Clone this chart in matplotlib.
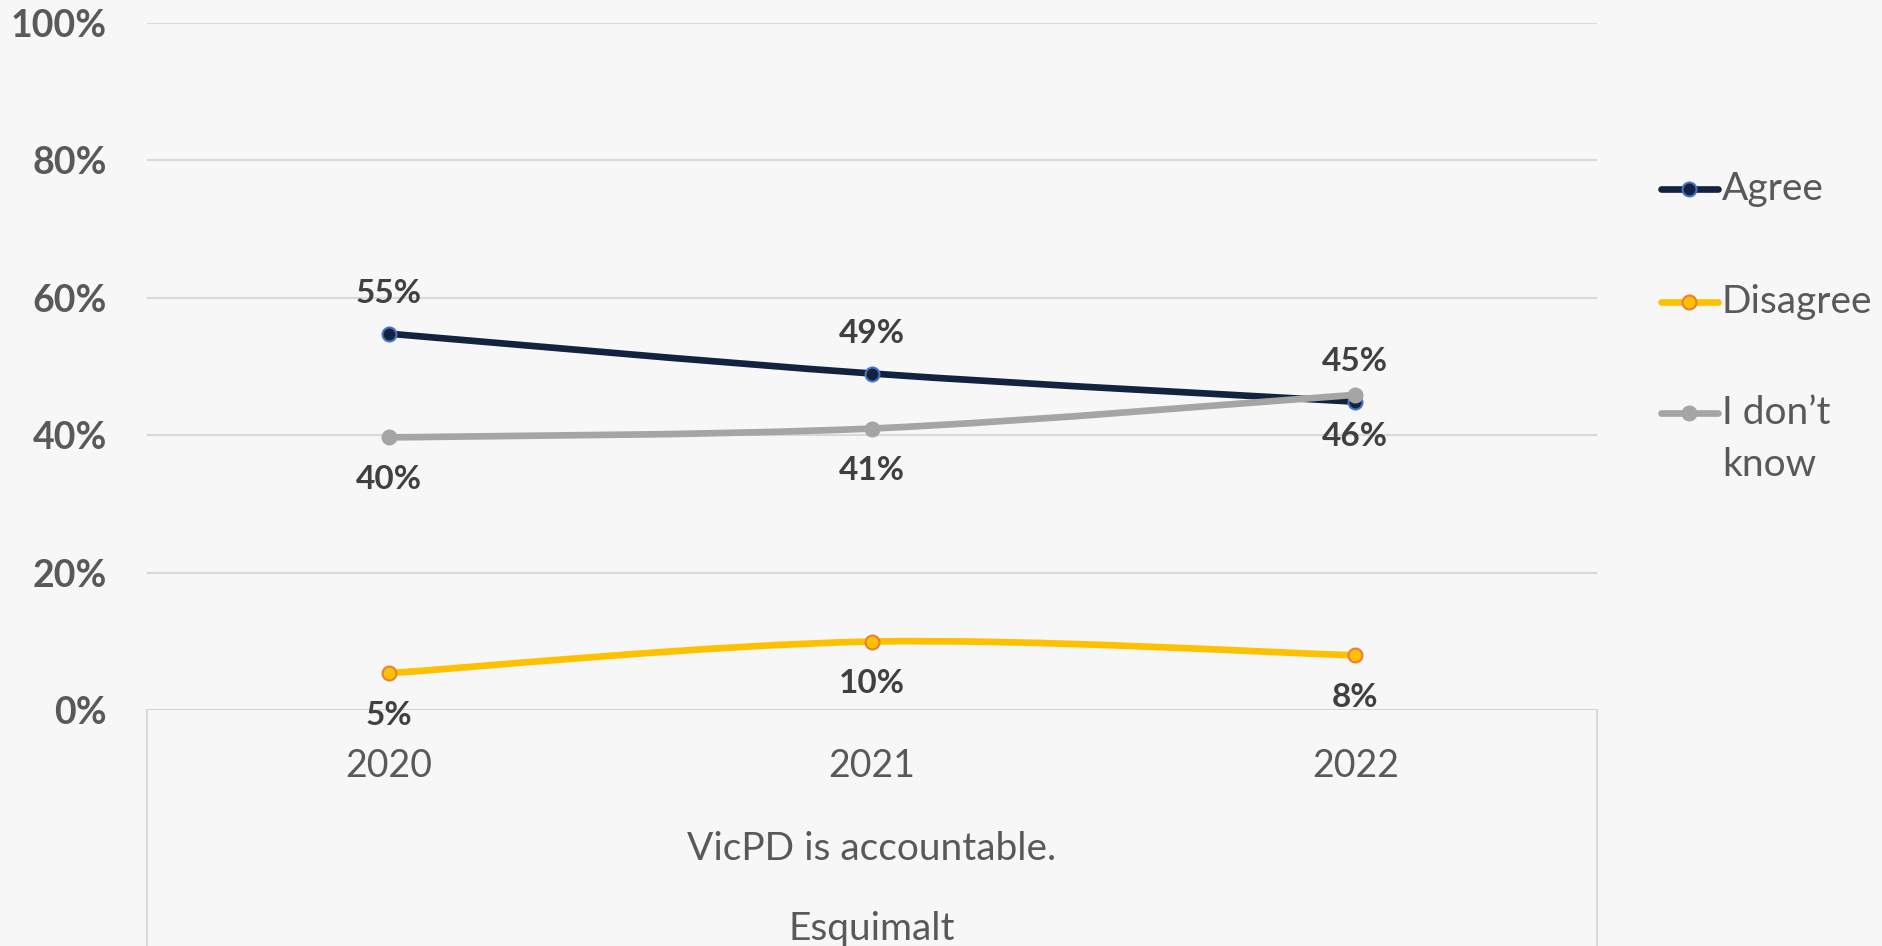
import matplotlib
matplotlib.use("Agg")
import matplotlib.pyplot as plt
from matplotlib.path import Path
from matplotlib.patches import PathPatch
from matplotlib.lines import Line2D

plt.rcParams['font.family'] = ['Lato', 'DejaVu Sans']

years = ["2020", "2021", "2022"]
series_names = ["Agree", "Disagree", "I don\u2019t\nknow"]
agree = [54.8, 49.0, 44.9]
disagree = [5.4, 10.0, 8.0]
dont_know = [39.7, 41.0, 45.9]
yticks = [0, 20, 40, 60, 80, 100]
xlabel1 = "VicPD is accountable."
xlabel2 = "Esquimalt"

BG = "#F7F7F7"
fig = plt.figure(figsize=(18.83, 9.46), dpi=100, facecolor=BG)
ax = fig.add_axes([147/1883, 1-710.3/946, (1597-147)/1883, (710.3-23)/946])
ax.set_facecolor(BG)
ax.set_xlim(-0.5, 2.5)
ax.set_ylim(0, 100)


def smooth_path(xs, ys):
    pts = list(zip(xs, ys))
    n = len(pts)
    verts = [pts[0]]
    codes = [Path.MOVETO]
    for i in range(n - 1):
        p0 = pts[i - 1] if i > 0 else pts[i]
        p1 = pts[i]
        p2 = pts[i + 1]
        p3 = pts[i + 2] if i + 2 < n else pts[i + 1]
        c1 = (p1[0] + (p2[0] - p0[0]) / 6, p1[1] + (p2[1] - p0[1]) / 6)
        c2 = (p2[0] - (p3[0] - p1[0]) / 6, p2[1] - (p3[1] - p1[1]) / 6)
        verts += [c1, c2, p2]
        codes += [Path.CURVE4] * 3
    return Path(verts, codes)


styles = [
    dict(data=agree, line="#13223F", face="#13223F", edge="#4472C4", above=True),
    dict(data=disagree, line="#FFC000", face="#FFC000", edge="#ED7D31", above=False),
    dict(data=dont_know, line="#A5A5A5", face="#A5A5A5", edge="#A5A5A5", above=False),
]
xs = list(range(len(years)))

for gy in yticks[1:]:
    ax.axhline(gy, color="#D9D9D9", lw=1.5, zorder=1)
ax.axhline(0, color="#D0D0D0", lw=2, zorder=1)

for z, st in enumerate(styles):
    patch = PathPatch(smooth_path(xs, st["data"]), facecolor="none",
                      edgecolor=st["line"], lw=4.8, capstyle="round",
                      joinstyle="round", zorder=3 + z)
    ax.add_patch(patch)
    ax.plot(xs, st["data"], linestyle="none", marker="o", ms=10,
            mfc=st["face"], mec=st["edge"], mew=1.5, zorder=3.5 + z)
    for x, v in zip(xs, st["data"]):
        off = 40 if st["above"] else -42
        ax.annotate(f"{round(v)}%", (x, v), xytext=(0, off * 0.72),
                    textcoords="offset points", ha="center", va="center",
                    fontsize=24, fontweight="bold", color="#404040", zorder=10)

for s in ax.spines.values():
    s.set_visible(False)
ax.set_yticks(yticks)
ax.set_yticklabels([f"{v}%" for v in yticks], fontsize=27, fontweight="bold",
                   color="#595959")
ax.tick_params(axis="y", length=0, pad=29)
ax.set_xticks(xs)
ax.set_xticklabels(years, fontsize=27, color="#595959")
ax.tick_params(axis="x", length=0, pad=27)

ax.text(1, -20.2, xlabel1, ha="center", va="center", fontsize=28,
        color="#595959", clip_on=False)
ax.text(1, -31.8, xlabel2, ha="center", va="center", fontsize=28,
        color="#595959", clip_on=False)

# box outline under the category axis
for xb in (147, 1597):
    fig.add_artist(Line2D([xb/1883, xb/1883], [0, 1-710.3/946],
                          transform=fig.transFigure, color="#D9D9D9", lw=1.5))

# legend drawn on the figure
leg_y = [189, 302, 413]
for st, name, yy in zip(styles, series_names, leg_y):
    yf = 1 - yy/946
    fig.add_artist(Line2D([1661/1883, 1718/1883], [yf, yf], transform=fig.transFigure,
                          color=st["line"], lw=4.8, solid_capstyle="round"))
    fig.add_artist(Line2D([1689.5/1883], [yf], transform=fig.transFigure,
                          marker="o", ms=10, mfc=st["face"], mec=st["edge"], mew=1.5,
                          linestyle="none"))
    lines = name.split("\n")
    fig.text(1722/1883, yf, lines[0], ha="left", va="center", fontsize=28,
             color="#595959")
    if len(lines) > 1:
        fig.text(1722/1883, 1 - 465/946, lines[1], ha="left", va="center",
                 fontsize=28, color="#595959")

fig.savefig("out.png", dpi=100, facecolor=BG)
